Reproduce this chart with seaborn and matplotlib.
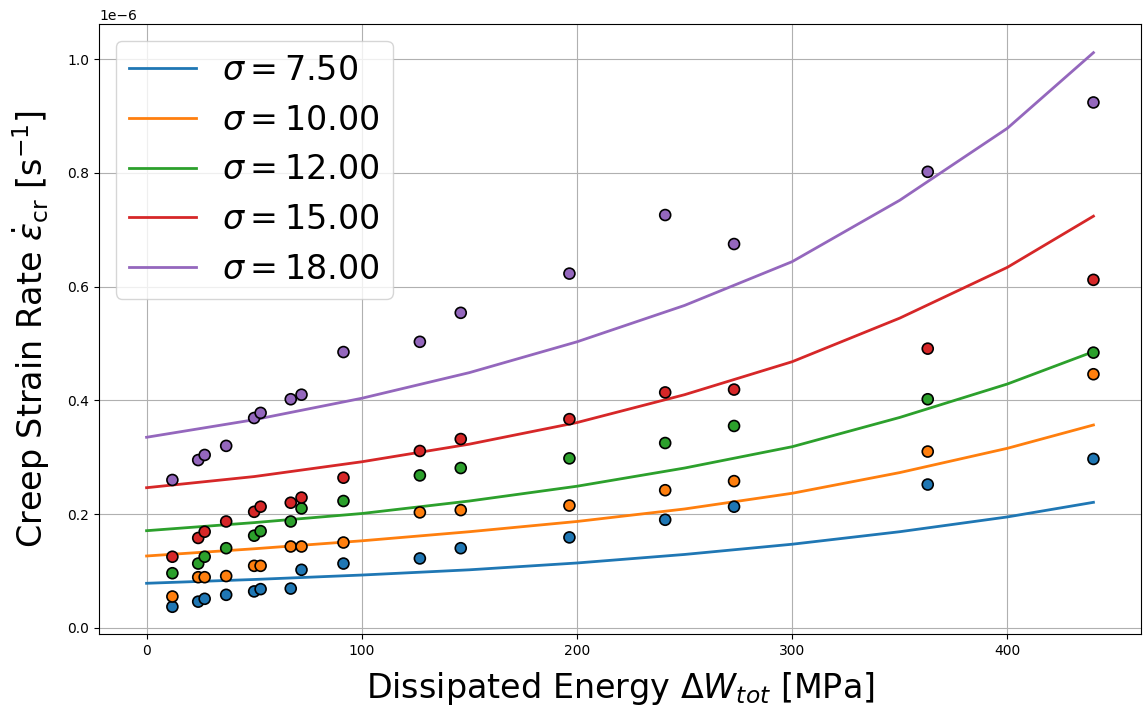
import numpy as np
import pandas as pd
import matplotlib
matplotlib.use("Agg")
import matplotlib.pyplot as plt
import seaborn as sns

# ---- data (rates in units of 1e-6 s^-1) ----
sigmas = [7.5, 10.0, 12.0, 15.0, 18.0]
colors = ["#1f77b4", "#ff7f0e", "#2ca02c", "#d62728", "#9467bd"]

# measured points
w_points = [12, 24, 27, 37, 50, 53, 67, 72, 91.5, 127, 146, 196.5, 241, 273, 363, 440]
rate_7_5 = [0.037, 0.046, 0.051, 0.058, 0.064, 0.068, 0.069, 0.102, 0.113, 0.122, 0.140, 0.159, 0.190, 0.213, 0.252, 0.297]
rate_10 = [0.055, 0.089, 0.089, 0.091, 0.109, 0.109, 0.143, 0.143, 0.150, 0.203, 0.207, 0.215, 0.242, 0.258, 0.310, 0.446]
rate_12 = [0.096, 0.113, 0.125, 0.140, 0.162, 0.170, 0.187, 0.210, 0.223, 0.268, 0.281, 0.298, 0.325, 0.355, 0.402, 0.484]
rate_15 = [0.125, 0.158, 0.169, 0.187, 0.204, 0.213, 0.220, 0.229, 0.264, 0.311, 0.332, 0.367, 0.414, 0.419, 0.491, 0.612]
rate_18 = [0.260, 0.295, 0.304, 0.320, 0.369, 0.378, 0.402, 0.410, 0.485, 0.503, 0.554, 0.623, 0.726, 0.675, 0.802, 0.924]

# model curves
w_curve = [0, 50, 100, 150, 200, 250, 300, 350, 400, 440]
fit_7_5 = [0.0783, 0.0850, 0.0928, 0.1020, 0.1140, 0.1290, 0.1470, 0.1690, 0.1950, 0.2207]
fit_10 = [0.1263, 0.1390, 0.1530, 0.1690, 0.1870, 0.2090, 0.2366, 0.2730, 0.3157, 0.3567]
fit_12 = [0.1708, 0.1850, 0.2010, 0.2230, 0.2490, 0.2810, 0.3185, 0.3700, 0.4288, 0.4857]
fit_15 = [0.2464, 0.2660, 0.2920, 0.3230, 0.3610, 0.4100, 0.4680, 0.5447, 0.6340, 0.7240]
fit_18 = [0.3351, 0.3660, 0.4037, 0.4488, 0.5030, 0.5670, 0.6440, 0.7520, 0.8786, 1.0116]

UNIT = 1e-6

point_sets = [rate_7_5, rate_10, rate_12, rate_15, rate_18]
curve_sets = [fit_7_5, fit_10, fit_12, fit_15, fit_18]
labels = [rf"$\sigma = {s:.2f}$" for s in sigmas]

pts = pd.concat([pd.DataFrame({"W": w_points, "rate": np.array(r) * UNIT, "label": lab})
                 for r, lab in zip(point_sets, labels)], ignore_index=True)
crv = pd.concat([pd.DataFrame({"W": w_curve, "rate": np.array(c) * UNIT, "label": lab})
                 for c, lab in zip(curve_sets, labels)], ignore_index=True)
palette = dict(zip(labels, colors))

fig = plt.figure(figsize=(11.43, 7.11), dpi=100)
ax = fig.add_axes([99 / 1143, 1 - 634 / 711, (1141 - 99) / 1143, (634 - 24) / 711])

sns.lineplot(data=crv, x="W", y="rate", hue="label", palette=palette, hue_order=labels,
             linewidth=2, ax=ax, zorder=2, legend=True)
sns.scatterplot(data=pts, x="W", y="rate", hue="label", palette=palette, hue_order=labels,
                s=62, edgecolor="black", linewidth=1.2, ax=ax, zorder=3, legend=False)

ax.set_xlim(-22.1, 462.1)
ax.set_ylim(-0.0109e-6, 1.062e-6)
ax.set_xticks([0, 100, 200, 300, 400])
ax.set_yticks(np.array([0.0, 0.2, 0.4, 0.6, 0.8, 1.0]) * UNIT)
ax.grid(True, color="#b0b0b0", linewidth=0.8)
ax.set_axisbelow(True)
ax.tick_params(labelsize=10)
ax.yaxis.get_offset_text().set_fontsize(10)

ax.set_xlabel(r"Dissipated Energy $\Delta W_{tot}$ [MPa]", fontsize=24, labelpad=9)
ax.set_ylabel(r"Creep Strain Rate $\dot{\varepsilon}_{\rm cr}$ [s$^{-1}$]", fontsize=24, labelpad=11)

leg = ax.legend(loc="upper left", fontsize=24)
leg.set_title(None)

fig.savefig("out.png", dpi=100)
